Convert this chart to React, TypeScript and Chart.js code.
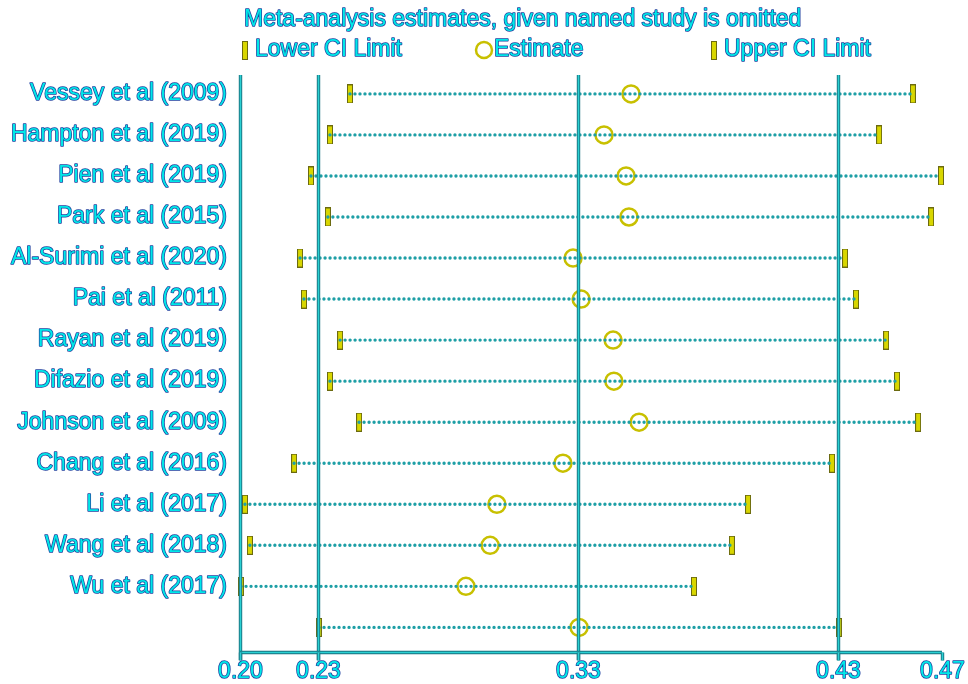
import React, { useEffect, useRef } from "react";
import { Chart, registerables } from "chart.js";
Chart.register(...registerables);

const studies = [
  "Vessey et al (2009)",
  "Hampton et al (2019)",
  "Pien et al (2019)",
  "Park et al (2015)",
  "Al-Surimi et al (2020)",
  "Pai et al (2011)",
  "Rayan et al (2019)",
  "Difazio et al (2019)",
  "Johnson et al (2009)",
  "Chang et al (2016)",
  "Li et al (2017)",
  "Wang et al (2018)",
  "Wu et al (2017)",
  "",
];
const lowerCI = [0.2423, 0.2346, 0.2273, 0.2338, 0.2231, 0.2246, 0.2385, 0.2346, 0.2458, 0.2208, 0.2019, 0.2038, 0.2004, 0.2304];
const estimates = [0.3504, 0.34, 0.3485, 0.3496, 0.3281, 0.3312, 0.3435, 0.3438, 0.3535, 0.3242, 0.2988, 0.2962, 0.2869, 0.3304];
const upperCI = [0.4588, 0.4458, 0.4696, 0.4658, 0.4327, 0.4369, 0.4485, 0.4527, 0.4608, 0.4277, 0.3954, 0.3892, 0.3746, 0.4304];
const xTicks = [0.2, 0.23, 0.33, 0.43, 0.47];
const refLines = [0.2, 0.23, 0.33, 0.43];
const titleText = "Meta-analysis estimates, given named study is omitted";
const legendLabels = ["Lower CI Limit", "Estimate", "Upper CI Limit"];

const FONT = "23px 'Liberation Sans', Arial, sans-serif";
const TEXT_FILL = "#00e8e8";
const TEXT_STROKE = "#1f3f9e";
const DOT_COLOR = "#1e9fa6";
const CIRCLE_COLOR = "#c8c000";

function makeBar(): HTMLCanvasElement {
  const c = document.createElement("canvas");
  c.width = 6;
  c.height = 19;
  const g = c.getContext("2d")!;
  g.fillStyle = "#6b6a10";
  g.fillRect(0, 0, 6, 19);
  g.fillStyle = "#d8d600";
  g.fillRect(1, 1, 4, 17);
  return c;
}

function drawText(ctx: CanvasRenderingContext2D, text: string, x: number, y: number, align: CanvasTextAlign) {
  ctx.save();
  ctx.font = FONT;
  ctx.textAlign = align;
  ctx.textBaseline = "middle";
  ctx.lineJoin = "round";
  ctx.lineWidth = 1.5;
  ctx.strokeStyle = TEXT_STROKE;
  ctx.strokeText(text, x, y);
  ctx.fillStyle = TEXT_FILL;
  ctx.fillText(text, x, y);
  ctx.restore();
}

function drawRule(ctx: CanvasRenderingContext2D, x1: number, y1: number, x2: number, y2: number) {
  ctx.save();
  ctx.lineCap = "butt";
  ctx.strokeStyle = "#17707e";
  ctx.lineWidth = 3.4;
  ctx.beginPath();
  ctx.moveTo(x1, y1);
  ctx.lineTo(x2, y2);
  ctx.stroke();
  ctx.strokeStyle = "#2ad0d2";
  ctx.lineWidth = 1.6;
  ctx.beginPath();
  ctx.moveTo(x1, y1);
  ctx.lineTo(x2, y2);
  ctx.stroke();
  ctx.restore();
}

export default function App() {
  const ref = useRef<HTMLCanvasElement | null>(null);
  useEffect(() => {
    if (!ref.current) return;
    const bar = makeBar();
    const rows = studies.map((_, i) => i + 1);
    const rangeSets = rows.map((r, i) => ({
      type: "scatter" as const,
      data: [
        { x: lowerCI[i], y: r },
        { x: upperCI[i], y: r },
      ],
      showLine: true,
      borderColor: DOT_COLOR,
      borderWidth: 3.4,
      borderDash: [0, 5],
      borderCapStyle: "round" as const,
      pointRadius: 0,
      clip: false as const,
    }));
    const decor = {
      id: "decor",
      afterDatasetsDraw(chart: any) {
        const ctx = chart.ctx as CanvasRenderingContext2D;
        const xs = chart.scales.x;
        const ys = chart.scales.y;
        const area = chart.chartArea;
        refLines.forEach((v) => {
          const px = Math.round(xs.getPixelForValue(v)) + 0.5;
          drawRule(ctx, px, area.top, px, area.bottom + 8);
        });
        const axisY = Math.round(area.bottom) + 0.5;
        drawRule(ctx, xs.getPixelForValue(xTicks[0]), axisY, xs.getPixelForValue(xTicks[xTicks.length - 1]), axisY);
        xTicks.forEach((v) => {
          const px = Math.round(xs.getPixelForValue(v)) + 0.5;
          drawRule(ctx, px, axisY, px, axisY + 8);
          drawText(ctx, v.toFixed(2), px, axisY + 19, "center");
        });
        rows.forEach((r, i) => {
          if (studies[i]) drawText(ctx, studies[i], area.left - 13, ys.getPixelForValue(r), "right");
        });
        drawText(ctx, titleText, 244, 20, "left");
        const ly = 50;
        ctx.drawImage(bar, 242, ly - 9);
        drawText(ctx, legendLabels[0], 255, ly, "left");
        ctx.save();
        ctx.strokeStyle = CIRCLE_COLOR;
        ctx.lineWidth = 2.5;
        ctx.beginPath();
        ctx.arc(484, ly, 8, 0, Math.PI * 2);
        ctx.stroke();
        ctx.restore();
        drawText(ctx, legendLabels[1], 494, ly, "left");
        ctx.drawImage(bar, 711, ly - 9);
        drawText(ctx, legendLabels[2], 724, ly, "left");
      },
    };
    const chart = new Chart(ref.current, {
      type: "scatter",
      data: {
        datasets: [
          ...rangeSets,
          {
            type: "scatter",
            data: rows.map((r, i) => ({ x: lowerCI[i], y: r })),
            pointStyle: bar,
            pointRadius: 9,
            clip: false,
          } as any,
          {
            type: "scatter",
            data: rows.map((r, i) => ({ x: upperCI[i], y: r })),
            pointStyle: bar,
            pointRadius: 9,
            clip: false,
          } as any,
          {
            type: "scatter",
            data: rows.map((r, i) => ({ x: estimates[i], y: r })),
            pointStyle: "circle",
            pointRadius: 8.5,
            borderWidth: 2.5,
            borderColor: CIRCLE_COLOR,
            backgroundColor: "rgba(0,0,0,0)",
            clip: false,
          } as any,
        ],
      },
      options: {
        animation: false,
        responsive: false,
        events: [],
        layout: { padding: { left: 240, right: 26, top: 75, bottom: 32 } },
        plugins: { legend: { display: false }, tooltip: { enabled: false }, title: { display: false } },
        scales: {
          x: { type: "linear", min: 0.2, max: 0.47, display: false },
          y: { type: "linear", min: 0.54, max: 14.6, reverse: true, display: false },
        },
      },
      plugins: [decor],
    } as any);
    return () => chart.destroy();
  }, []);
  return (
    <div style={{ position: "fixed", left: 0, top: 0, width: 968, height: 684, background: "#ffffff" }}>
      <canvas ref={ref} width={968} height={684} style={{ display: "block" }} />
    </div>
  );
}
